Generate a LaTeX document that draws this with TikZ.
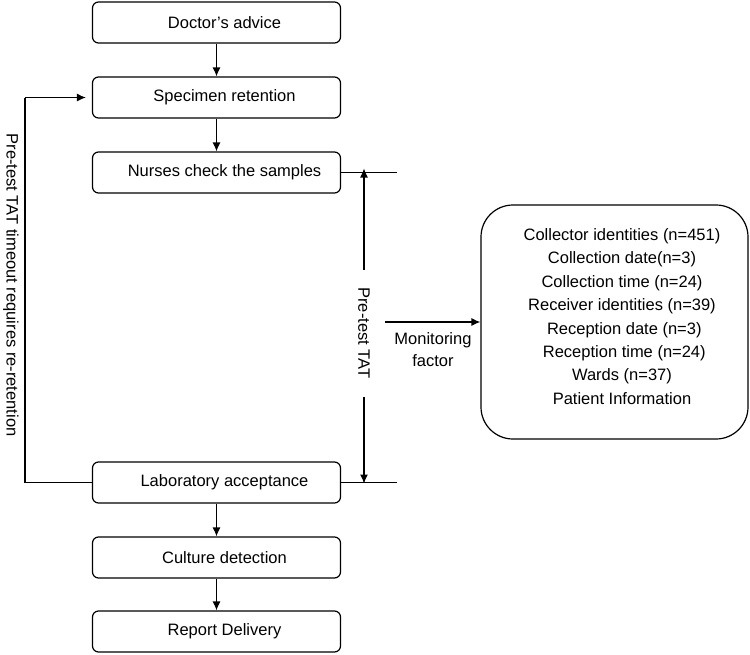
\documentclass[tikz,border=0pt]{standalone}
\usepackage{fontspec}
\setmainfont{Liberation Sans}
\usetikzlibrary{arrows.meta}
\newcommand{\rsh}{\hspace*{16pt}}
\begin{document}
\begin{tikzpicture}[x=1pt,y=-1pt,
  stepbox/.style={draw,rounded corners=6pt,line width=1.2pt,minimum width=248pt,minimum height=41pt,inner sep=0pt,font=\fontsize{16.5}{18}\selectfont},
  conn/.style={line width=1.2pt},
  arr/.style={line width=1.2pt,-{Latex[length=9pt,width=8pt]}},
  lbl/.style={font=\fontsize{16.5}{18}\selectfont}]
\useasboundingbox (0,0) rectangle (750,654);
\node[stepbox] (doc) at (216.5,22.5) {\rsh Doctor's advice};
\node[stepbox] (spec) at (216.5,97.5) {\rsh Specimen retention};
\node[stepbox] (nurse) at (216.5,172.5) {\rsh Nurses check the samples};
\node[stepbox] (lab) at (216.5,482.5) {\rsh Laboratory acceptance};
\node[stepbox] (cult) at (216.5,557.5) {\rsh Culture detection};
\node[stepbox] (rep) at (216.5,631.5) {\rsh Report Delivery};
\draw[arr] (doc) -- (spec);
\draw[arr] (spec) -- (nurse);
\draw[arr] (lab) -- (cult);
\draw[arr] (cult) -- (rep);
% left loop
\coordinate (lb) at (25,482.5);
\coordinate (lt) at (25,97.5);
\draw[conn] (lab.west) -- (lb) -- (lt);
\draw[arr] (lt) -- ([xshift=-6pt]spec.west);
\node[lbl,rotate=-90] (loop) at (11,285) {Pre-test TAT timeout requires re-retention};
% right lines
\coordinate (nr) at (397,172.5);
\coordinate (lr) at (397,482.5);
\draw[conn] (nurse.east) -- (nr);
\draw[conn] (lab.east) -- (lr);
\coordinate (tt) at (364,172.5);
\coordinate (tb) at (364,482.5);
\node[lbl,rotate=-90] (tat) at (364,333) {Pre-test TAT};
\draw[arr] (364,270) -- ([yshift=4pt]tt);
\draw[arr] (364,397) -- ([yshift=-1pt]tb);
% monitoring
\node[draw,rounded corners=32pt,line width=1.2pt,minimum width=267pt,minimum height=234pt,inner sep=0pt] (info) at (614.5,322) {};
\node[lbl,align=center] (infot) at (622,316.5) {Collector identities (n=451)\\[5.4pt]Collection date(n=3)\\[5.4pt]Collection time (n=24)\\[5.4pt]Receiver identities (n=39)\\[5.4pt]\ Reception date (n=3)\\[5.4pt]\ Reception time (n=24)\\[5.4pt]Wards (n=37)\\[5.4pt]Patient Information};
\coordinate (ms) at (385,322);
\draw[arr] (ms) -- (info.west);
\node[lbl,align=center] (mon) at (433,349.5) {Monitoring\\[4.5pt]factor};
\end{tikzpicture}
\end{document}
